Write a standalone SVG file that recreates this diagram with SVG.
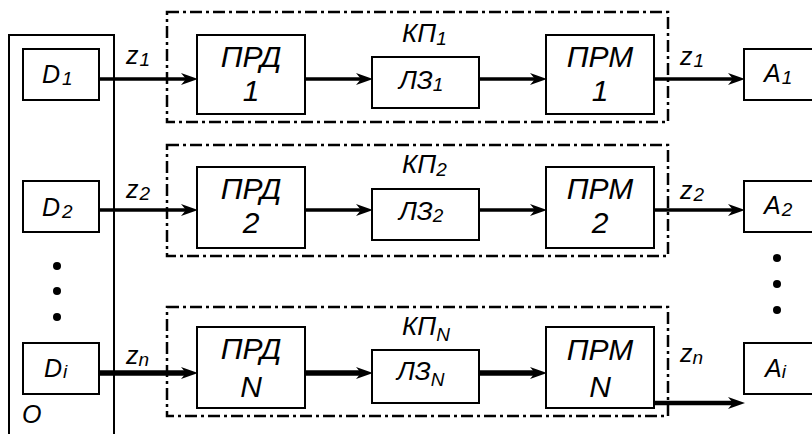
<svg xmlns="http://www.w3.org/2000/svg" width="812" height="434" viewBox="0 0 812 434">
  <defs>
    <style>
      .box { fill: #fff; stroke: #000; stroke-width: 2; }
      .frame { fill: none; stroke: #000; stroke-width: 2.5; stroke-dasharray: 12 4 3 4; }
      .wire { fill: none; stroke: #000; stroke-width: 3.5; marker-end: url(#arrow); }
      .wire.heavy { stroke-width: 5.5; }
      .wire.mid { stroke-width: 4.5; }
      text { font-family: "Liberation Sans", Arial, sans-serif; font-style: italic; fill: #000; }
      .big { font-size: 30px; text-anchor: middle; }
      .mid { font-size: 26px; }
      .lab { font-size: 25px; }
      .sub { font-size: 19px; }
      .dot { fill: #000; }
    </style>
    <marker id="arrow" markerUnits="userSpaceOnUse" viewBox="0 -7 17 14" markerWidth="17" markerHeight="14" refX="8" refY="0" orient="auto">
      <path d="M0,-6 L17,0 L0,6 L5,0 Z" fill="#000"/>
    </marker>
  </defs>

  <!-- source block O -->
  <g id="source">
    <path d="M9,440 V35 H114 V440" fill="none" stroke="#000" stroke-width="2"/>
    <text class="lab" x="22" y="423">O</text>
    <circle class="dot" cx="57" cy="266" r="4"/>
    <circle class="dot" cx="57" cy="291" r="4"/>
    <circle class="dot" cx="57" cy="317" r="4"/>
  </g>

  <!-- channel frames -->
  <g id="kp1">
    <rect class="frame" x="167" y="12" width="501" height="110"/>
    <text class="mid" x="402" y="42">КП<tspan class="sub" dy="3">1</tspan></text>
  </g>
  <g id="kp2">
    <rect class="frame" x="167" y="145" width="501" height="111"/>
    <text class="mid" x="402" y="173">КП<tspan class="sub" dy="3">2</tspan></text>
  </g>
  <g id="kpN">
    <rect class="frame" x="167" y="307" width="501" height="109"/>
    <text class="mid" x="402" y="335">КП<tspan class="sub" dy="6">N</tspan></text>
  </g>

  <!-- sources -->
  <g id="d1">
    <rect class="box" x="23" y="49" width="76" height="51"/>
    <text class="lab" x="42" y="83">D<tspan class="sub" dx="2" dy="2">1</tspan></text>
  </g>
  <g id="d2">
    <rect class="box" x="23" y="181" width="76" height="51"/>
    <text class="lab" x="42" y="216">D<tspan class="sub" dx="2" dy="2">2</tspan></text>
  </g>
  <g id="di">
    <rect class="box" x="23" y="343" width="76" height="51"/>
    <text class="lab" x="44" y="377">D<tspan class="sub" dx="1" dy="1">i</tspan></text>
  </g>

  <!-- transmitters -->
  <g id="prd1">
    <rect class="box" x="197" y="35" width="108" height="79"/>
    <text class="big" x="251" y="67">ПРД</text>
    <text class="big" x="251" y="101">1</text>
  </g>
  <g id="prd2">
    <rect class="box" x="197" y="167" width="108" height="81"/>
    <text class="big" x="251" y="199">ПРД</text>
    <text class="big" x="251" y="233">2</text>
  </g>
  <g id="prdN">
    <rect class="box" x="197" y="327" width="108" height="81"/>
    <text class="big" x="251" y="359">ПРД</text>
    <text class="big" x="251" y="397">N</text>
  </g>

  <!-- delay lines -->
  <g id="lz1">
    <rect class="box" x="372" y="57" width="107" height="51"/>
    <text class="mid" x="399" y="89">ЛЗ<tspan class="sub" dy="2">1</tspan></text>
  </g>
  <g id="lz2">
    <rect class="box" x="372" y="189" width="107" height="51"/>
    <text class="mid" x="399" y="220">ЛЗ<tspan class="sub" dy="2">2</tspan></text>
  </g>
  <g id="lzN">
    <rect class="box" x="372" y="350" width="107" height="53"/>
    <text class="mid" x="397" y="380">ЛЗ<tspan class="sub" dy="6">N</tspan></text>
  </g>

  <!-- receivers -->
  <g id="prm1">
    <rect class="box" x="546" y="35" width="108" height="79"/>
    <text class="big" x="600" y="67">ПРМ</text>
    <text class="big" x="600" y="101">1</text>
  </g>
  <g id="prm2">
    <rect class="box" x="546" y="167" width="108" height="81"/>
    <text class="big" x="600" y="199">ПРМ</text>
    <text class="big" x="600" y="233">2</text>
  </g>
  <g id="prmN">
    <rect class="box" x="546" y="327" width="108" height="81"/>
    <text class="big" x="600" y="360">ПРМ</text>
    <text class="big" x="600" y="397">N</text>
  </g>

  <!-- receivers of messages -->
  <g id="a1">
    <rect class="box" x="744" y="49" width="74" height="51"/>
    <text class="lab" x="764" y="82">A<tspan class="sub" dx="1" dy="2">1</tspan></text>
  </g>
  <g id="a2">
    <rect class="box" x="744" y="181" width="74" height="51"/>
    <text class="lab" x="764" y="214">A<tspan class="sub" dx="1" dy="2">2</tspan></text>
    <circle class="dot" cx="777" cy="258" r="4"/>
    <circle class="dot" cx="777" cy="284" r="4"/>
    <circle class="dot" cx="777" cy="310" r="4"/>
  </g>
  <g id="ai">
    <rect class="box" x="744" y="343" width="74" height="51"/>
    <text class="lab" x="765" y="377">A<tspan class="sub" dy="1">i</tspan></text>
  </g>

  <!-- connectors -->
  <g id="connectors">
    <path class="wire" d="M99,79 H189"/>
    <path class="wire" d="M305,79 H364"/>
    <path class="wire" d="M479,79 H538"/>
    <path class="wire" d="M654,79 H736"/>

    <path class="wire" d="M99,210 H189"/>
    <path class="wire" d="M305,210 H364"/>
    <path class="wire" d="M479,210 H538"/>
    <path class="wire" d="M654,210 H736"/>

    <path class="wire heavy" d="M99,373 H189"/>
    <path class="wire heavy" d="M305,373 H364"/>
    <path class="wire heavy" d="M479,373 H538"/>
    <path class="wire mid" d="M654,403 H736"/>

    <text class="lab" x="126" y="64">z<tspan class="sub" dx="1" dy="2">1</tspan></text>
    <text class="lab" x="126" y="198">z<tspan class="sub" dx="1" dy="2">2</tspan></text>
    <text class="lab" x="126" y="364">z<tspan class="sub" dy="2">n</tspan></text>
    <text class="lab" x="680" y="65">z<tspan class="sub" dx="1" dy="2">1</tspan></text>
    <text class="lab" x="680" y="199">z<tspan class="sub" dx="1" dy="2">2</tspan></text>
    <text class="lab" x="680" y="362">z<tspan class="sub" dy="2">n</tspan></text>
  </g>
</svg>
